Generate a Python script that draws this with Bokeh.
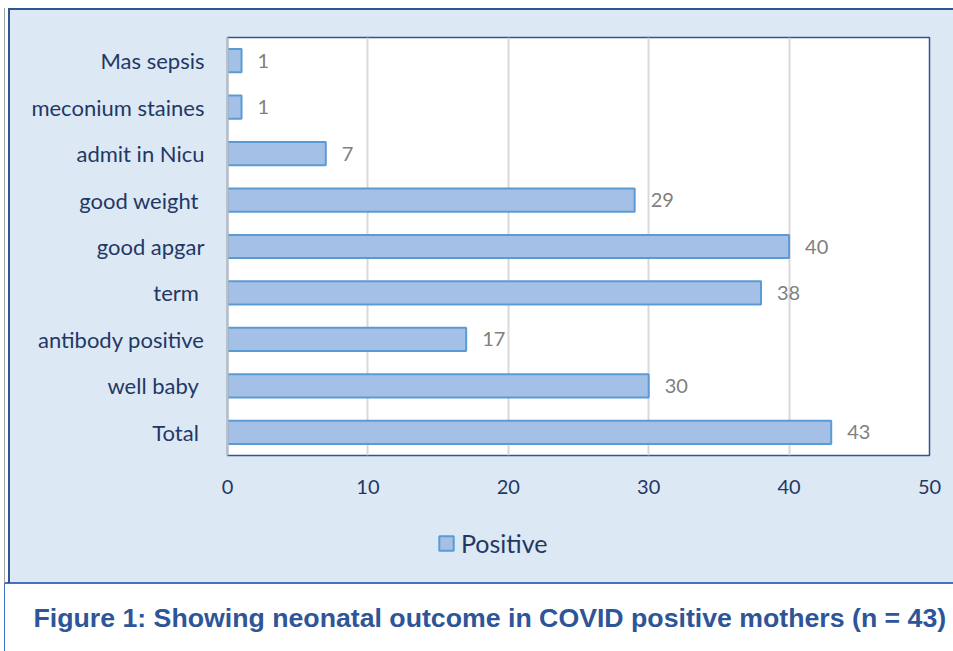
from bokeh.plotting import figure
from bokeh.models import (ColumnDataSource, FactorRange, Range1d, FixedTicker,
                          Legend, LegendItem, Title)
from bokeh.layouts import column
from bokeh.embed import file_html
from bokeh.resources import INLINE
from bokeh.core.properties import value

# ---- data ----
categories = ["Mas sepsis", "meconium staines", "admit in Nicu", "good  weight",
              "good apgar", "term ", "antibody positive", "well baby ", "Total "]
positive = [1, 1, 7, 29, 40, 38, 17, 30, 43]
x_ticks = [0, 10, 20, 30, 40, 50]
series_name = "Positive"
caption = "Figure 1:  Showing neonatal outcome in COVID positive mothers (n = 43)"

PANEL_BG = "#DDE8F5"
NAVY = "#1F3864"
EDGE = "#2F5597"
FONT = "Lato"
BAR_FILL = "#A4C0E7"
BAR_LINE = "#5B9BD5"

src = ColumnDataSource(dict(cat=categories, val=positive,
                            lbl=[str(v) for v in positive]))


def band(color, x, y, w, h):
    return f"linear-gradient({color},{color}) {x}px {y}px / {w}px {h}px no-repeat"


# ---- main chart ----
p = figure(width=953, height=505, output_backend="svg", toolbar_location=None,
           y_range=FactorRange(factors=list(reversed(categories)), range_padding=0),
           x_range=Range1d(0, 50))
p.min_border_left = 227
p.min_border_right = 24
p.min_border_top = 37
p.min_border_bottom = 50
p.border_fill_alpha = 0
p.background_fill_color = "white"
p.outline_line_color = EDGE
p.outline_line_width = 1.5
p.styles = {"background": ", ".join([
    band(EDGE, 8, 8, 2, 497),
    band(EDGE, 8, 8, 945, 2),
    band("#A6A6A6", 4, 8, 1, 497),
    band(PANEL_BG, 9, 9, 944, 496),
    "white",
])}

bars = p.hbar(y="cat", right="val", left=0, height=0.5, source=src,
              fill_color=BAR_FILL, line_color=BAR_LINE, line_width=2)

p.text(x="val", y="cat", text="lbl", source=src, x_offset=16,
       text_baseline="middle", text_align="left", text_color="#808080",
       text_font=value(FONT), text_font_size="20px")

p.xaxis.ticker = FixedTicker(ticks=x_ticks)
p.xgrid.ticker = FixedTicker(ticks=x_ticks)
p.xgrid.grid_line_color = "#D9D9D9"
p.xgrid.grid_line_width = 2
p.ygrid.grid_line_color = None

p.xaxis.axis_line_color = None
p.xaxis.major_tick_line_color = None
p.xaxis.minor_tick_line_color = None
p.xaxis.major_label_standoff = 18
p.xaxis.major_label_text_font = FONT
p.xaxis.major_label_text_font_size = "20px"
p.xaxis.major_label_text_color = NAVY

p.yaxis.axis_line_color = "#BFBFBF"
p.yaxis.axis_line_width = 2
p.yaxis.major_tick_line_color = None
p.yaxis.minor_tick_line_color = None
p.yaxis.major_label_standoff = 17
p.yaxis.major_label_text_font = FONT
p.yaxis.major_label_text_font_size = "22px"
p.yaxis.major_label_text_color = NAVY

# ---- legend + caption strip ----
q = figure(width=953, height=146, output_backend="svg", toolbar_location=None,
           x_range=Range1d(0, 50),
           y_range=FactorRange(factors=list(reversed(categories))),
           x_axis_location=None, y_axis_location=None)
q.min_border_left = 227
q.min_border_right = 24
q.min_border_top = 0
q.min_border_bottom = 68
q.grid.visible = False
q.outline_line_color = None
q.border_fill_alpha = 0
q.background_fill_alpha = 0
q.styles = {"background": ", ".join([
    band(EDGE, 8, 0, 2, 78),
    band("#A6A6A6", 4, 0, 1, 78),
    band("#4472C4", 4, 77, 949, 2),
    band("#4472C4", 4, 79, 1, 67),
    band(PANEL_BG, 9, 0, 944, 77),
    "white",
])}

# same series with the bar style, hidden, only feeding the legend swatch
legend_bars = q.hbar(y="cat", right="val", left=0, height=0.5, source=src,
                     fill_color=BAR_FILL, line_color=BAR_LINE, line_width=2)
legend_bars.visible = False

legend = Legend(items=[LegendItem(label=series_name, renderers=[legend_bars])],
                location=(210, 25), orientation="horizontal",
                background_fill_alpha=0, border_line_color=None,
                inactive_fill_alpha=0,
                padding=0, margin=0, glyph_width=18, glyph_height=18,
                label_text_font=FONT, label_text_font_size="25px",
                label_text_color=NAVY, label_standoff=6)
q.add_layout(legend, "center")

title = Title(text=caption, align="left", offset=-194, standoff=34,
              text_font="Liberation Sans", text_font_style="bold",
              text_font_size="26.7px", text_color="#2E5597")
q.add_layout(title, "below")

layout = column(p, q, spacing=0)
open("out.html", "w").write(file_html(layout, INLINE))
